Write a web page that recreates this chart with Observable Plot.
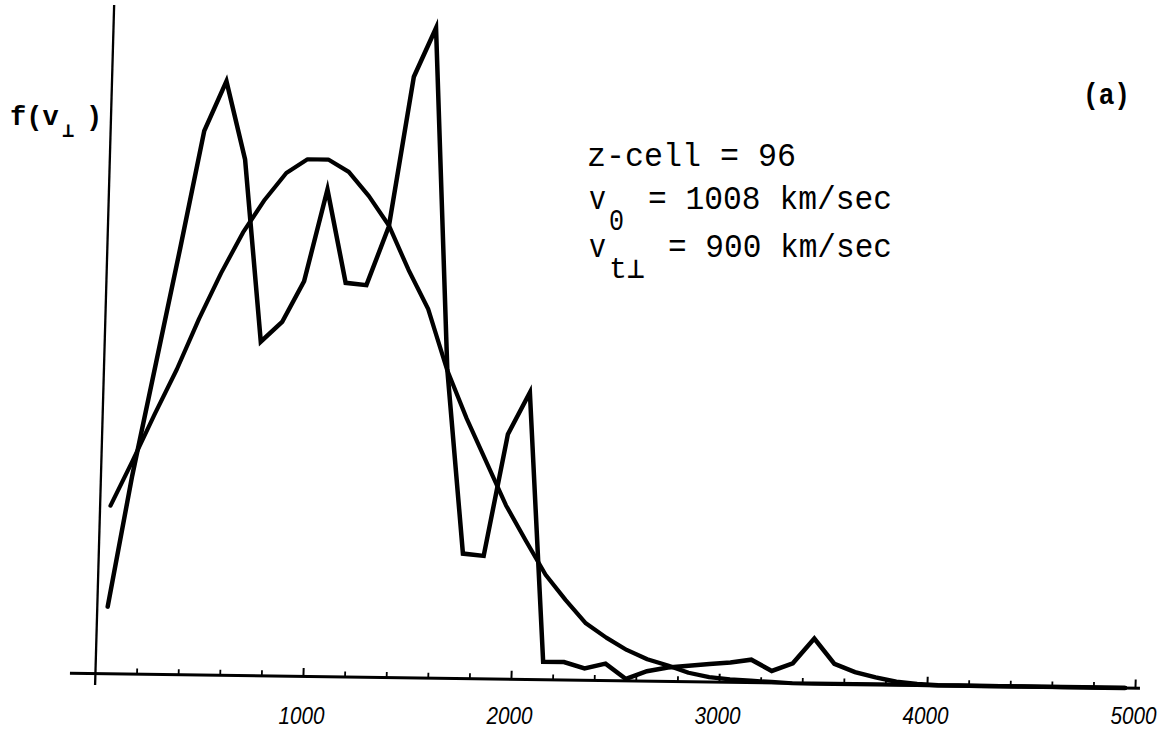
<!DOCTYPE html>
<html>
<head>
<meta charset="utf-8">
<script src="https://cdn.jsdelivr.net/npm/d3@7"></script>
<script src="https://cdn.jsdelivr.net/npm/@observablehq/plot@0.6"></script>
<style>
  html, body { margin: 0; padding: 0; background: #fff; }
  #chart svg { display: block; }
</style>
</head>
<body>
<div id="chart"></div>
<script>
// ---- data ----
// velocity bin centres (km/sec)
const binCenters = [50,150,250,350,450,550,650,750,850,950,
  1050,1150,1250,1350,1450,1550,1650,1750,1850,1950,
  2050,2150,2250,2350,2450,2550,2650,2750,2850,2950,
  3050,3150,3250,3350,3450,3550,3650,3750,3850,3950,
  4050,4150,4250,4350,4450,4550,4650,4750,4850,4950];

// simulated distribution f(v_perp) (arbitrary units)
const histogram = [67,198,312,426,544,594,516,334,354,395,
  487,394,392,451,601,650,309,125,123,245,
  287,18,18,12,17,2,10,14,16,18,
  20,23,12,20,45,20,12,7,3,1,
  0,0,0,0,0,0,0,0,0,0];

// fitted Maxwellian (arbitrary units)
const fitted = [168,213,260,305,356,402,443,476,503,517,
  517,505,481,452,408,369,308,260,217,174,
  139,105,80,57,43,31,22,16,9,5,
  3,2,1,0,0,0,0,0,0,0,
  0,0,0,0,0,0,0,0,0,0];

const minorTicks = [200,400,600,800,1200,1400,1600,1800,2200,2400,2600,2800,
  3200,3400,3600,3800,4200,4400,4600,4800];
const majorTicks = [1000,2000,3000,4000,5000];
const tickLabels = ["1000","2000","3000","4000","5000"];

const infoText = ["z-cell = 96", "= 1008 km/sec", "= 900 km/sec"];
const infoSubs = ["0", "t\u22A5"];
const panelLabel = "(a)";
const yLabel = ["f(v", "\u22A5", ")"];

const hist = binCenters.map((v, i) => ({v, f: histogram[i]}));
const fit = binCenters.map((v, i) => ({v, f: fitted[i]}));
const labels = majorTicks.map((v, i) => ({v, t: tickLabels[i]}));

const svg = Plot.plot({
  width: 1163,
  height: 730,
  marginLeft: 70,
  marginRight: 23,
  marginTop: 10,
  marginBottom: 40,
  x: {domain: [-120, 5024], axis: null},
  y: {domain: [-12, 668], axis: null},
  style: {background: "#fff"},
  marks: [
    Plot.ruleY([0], {stroke: "#000", strokeWidth: 3}),
    Plot.ruleX([0], {stroke: "#000", strokeWidth: 2.3}),
    Plot.ruleX(minorTicks, {x: d => d, y1: 0, y2: 5, stroke: "#000", strokeWidth: 1.8}),
    Plot.ruleX(majorTicks, {x: d => d, y1: 0, y2: 8, stroke: "#000", strokeWidth: 2}),
    Plot.line(fit, {x: "v", y: "f", stroke: "#000", strokeWidth: 4.2, strokeLinejoin: "round"}),
    Plot.line(hist, {x: "v", y: "f", stroke: "#000", strokeWidth: 4.5, strokeLinejoin: "miter", strokeMiterlimit: 12}),
    Plot.text(labels, {x: "v", y: 0, dy: 38, dx: -2, text: "t", fontSize: 24, fontStyle: "italic",
      fontFamily: "'Liberation Sans', Arial, sans-serif", fill: "#000", lineAnchor: "middle"})
  ]
});

const root = d3.select(svg);

// the scanned original is slightly skewed: reproduce that tilt on the drawn marks
const drawn = Array.from(svg.children).filter(el => {
  const a = el.getAttribute && el.getAttribute("aria-label");
  return a === "rule" || a === "line";
});
const tilt = root.append("g").attr("transform", "matrix(1,0.014,-0.028,1,18.96,-6.33)");
drawn.forEach(el => tilt.node().appendChild(el));

root.selectAll('g[aria-label="text"] text')
  .attr("textLength", 46).attr("lengthAdjust", "spacingAndGlyphs");

function addText({x, y, text, size, weight = "normal", length, family = "'Liberation Mono', 'DejaVu Sans Mono', monospace"}) {
  const t = root.append("text")
    .attr("x", x).attr("y", y)
    .attr("text-anchor", "start")
    .attr("font-family", family)
    .attr("font-size", size)
    .attr("font-weight", weight)
    .attr("fill", "#000")
    .text(text);
  if (length) t.attr("textLength", length).attr("lengthAdjust", "spacingAndGlyphs");
}

// annotation block
addText({x: 587, y: 166, text: infoText[0], size: 34, length: 209});
addText({x: 589, y: 209, text: "v", size: 34, length: 17});
addText({x: 609, y: 230, text: infoSubs[0], size: 29, length: 15});
addText({x: 648, y: 209, text: infoText[1], size: 34, length: 244});
addText({x: 589, y: 257, text: "v", size: 34, length: 17});
addText({x: 609, y: 278, text: infoSubs[1], size: 29, length: 36});
addText({x: 668, y: 257, text: infoText[2], size: 34, length: 224});

// panel label
addText({x: 1083, y: 104, text: panelLabel, size: 29, weight: "bold", length: 47});

// y label f(v⊥)
addText({x: 10, y: 125, text: yLabel[0], size: 27, weight: "bold"});
addText({x: 62, y: 137, text: yLabel[1], size: 20, weight: "bold"});
addText({x: 86, y: 125, text: yLabel[2], size: 27, weight: "bold"});

document.getElementById("chart").appendChild(svg);
</script>
</body>
</html>
